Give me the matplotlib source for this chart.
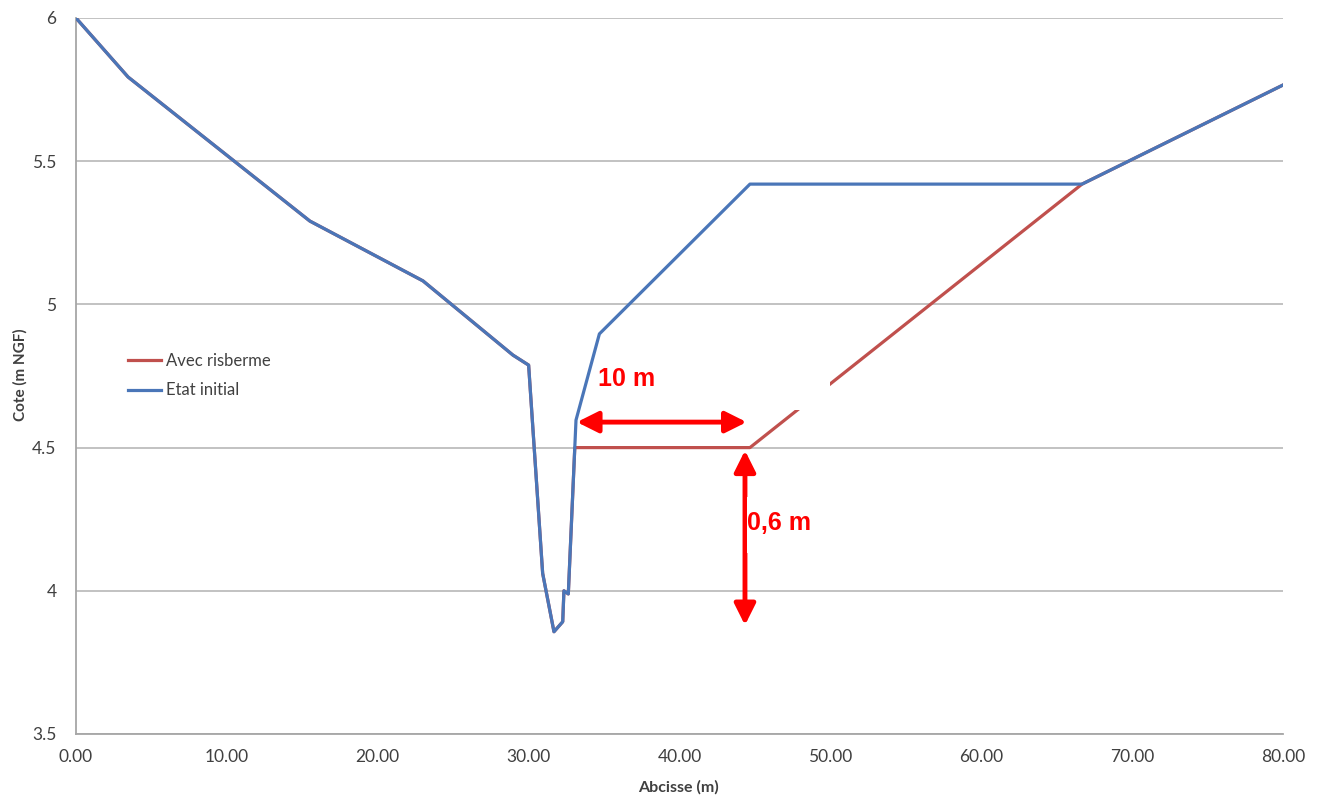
import matplotlib
matplotlib.use("Agg")
import matplotlib.pyplot as plt
from matplotlib.patches import Rectangle

plt.rcParams['font.family'] = ['Lato', 'DejaVu Sans']

# Data
x_initial = [0.0, 3.45, 15.5, 23.0, 28.96, 30.0, 30.93, 31.68, 32.26, 32.34, 32.63, 33.14, 34.69, 44.67, 66.68, 80.0]
y_initial = [6.0, 5.794, 5.291, 5.082, 4.823, 4.788, 4.061, 3.857, 3.892, 4.0, 3.989, 4.596, 4.897, 5.42, 5.42, 5.766]

x_risberme = [0.0, 3.45, 15.5, 23.0, 28.96, 30.0, 30.93, 31.68, 32.26, 32.34, 32.63, 33.06, 44.67, 66.68, 80.0]
y_risberme = [6.0, 5.794, 5.291, 5.082, 4.823, 4.788, 4.061, 3.857, 3.892, 4.0, 3.989, 4.5, 4.5, 5.42, 5.766]

x_ticks = [0, 10, 20, 30, 40, 50, 60, 70, 80]
y_ticks = [3.5, 4, 4.5, 5, 5.5, 6]
y_ticklabels = ["3.5", "4", "4.5", "5", "5.5", "6"]

W, H = 1321, 796
fig = plt.figure(figsize=(W / 100, H / 100), dpi=100)
ax = fig.add_axes([76 / W, (H - 734) / H, (1283 - 76) / W, (734 - 18) / H])

ax.plot(x_risberme, y_risberme, color='#c0504d', lw=2.3, label='Avec risberme', zorder=3)
ax.plot(x_initial, y_initial, color='#4a76b8', lw=2.3, label='Etat initial', zorder=4)

ax.set_xlim(0, 80)
ax.set_ylim(3.5, 6)
ax.set_xticks(x_ticks)
ax.set_xticklabels([f"{v:.2f}" for v in x_ticks])
ax.set_yticks(y_ticks)
ax.set_yticklabels(y_ticklabels)
ax.grid(axis='y', color='#bdbdbd', lw=1.3, zorder=0)
ax.set_axisbelow(True)
for s in ['top', 'right']:
    ax.spines[s].set_visible(False)
for s in ['left', 'bottom']:
    ax.spines[s].set_color('#a6a6a6')
    ax.spines[s].set_linewidth(1.3)
ax.tick_params(length=0, labelsize=12.5, colors='#404040')
ax.tick_params(axis='x', pad=11)
ax.tick_params(axis='y', pad=14)

fig.text(678 / W, 1 - 787 / H, 'Abcisse (m)', ha='center', va='center', fontsize=11.5, fontweight='bold', color='#404040')
fig.text(20 / W, 1 - 375 / H, 'Cote (m NGF)', ha='center', va='center', rotation=90, fontsize=11, fontweight='bold', color='#404040')

leg = ax.legend(loc='upper left', bbox_to_anchor=(37 / (1283 - 76), 1 - (338 - 18) / (734 - 18)),
                frameon=False, fontsize=12, handlelength=2.0, handletextpad=0.3, labelspacing=0.8)
for t in leg.get_texts():
    t.set_color('#404040')

# white masking boxes (as in the reference image)
ax.add_patch(Rectangle((34.4, 4.631), 15.57, 0.182, facecolor='white', edgecolor='none', zorder=5))
ax.add_patch(Rectangle((44.47, 4.132), 13.6, 0.195, facecolor='white', edgecolor='none', zorder=7))

# arrows
red = '#ff0000'
ax.annotate('', xy=(33.2, 4.589), xytext=(44.45, 4.589),
            arrowprops=dict(arrowstyle='<|-|>', color=red, lw=3.5, mutation_scale=32, shrinkA=0, shrinkB=0), zorder=6)
ax.annotate('', xy=(44.34, 4.49), xytext=(44.34, 3.88),
            arrowprops=dict(arrowstyle='<|-|>', color=red, lw=3.5, mutation_scale=32, shrinkA=0, shrinkB=0), zorder=6)

ax.text(34.6, 4.74, '10 m', color=red, fontsize=18, fontweight='bold', fontfamily='Liberation Sans', va='center', ha='left', zorder=8)
ax.text(44.5, 4.235, '0,6 m', color=red, fontsize=18, fontweight='bold', fontfamily='Liberation Sans', va='center', ha='left', zorder=8)

fig.savefig('out.png', dpi=100, facecolor='white')
